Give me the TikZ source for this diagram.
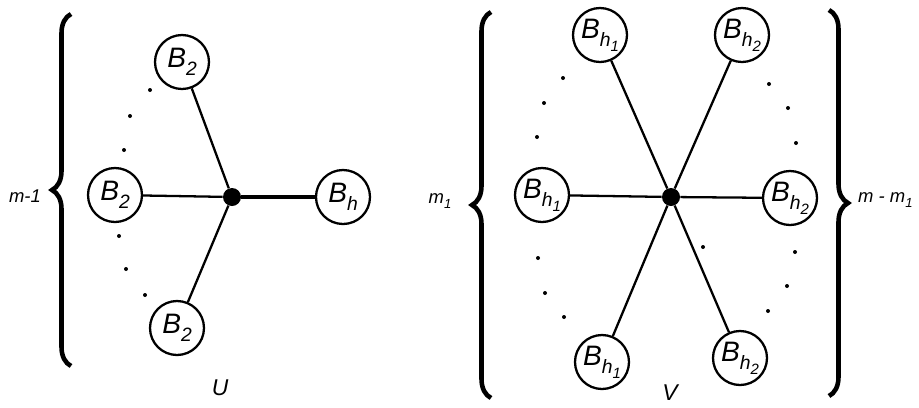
\documentclass[tikz,border=0pt]{standalone}
\usepackage{fontspec}
\setmainfont{Liberation Sans}
\usetikzlibrary{decorations.pathreplacing}

\newcommand{\Bsub}[1]{\textit{B}\raisebox{-.55ex}{\fontsize{11}{11}\selectfont\itshape #1}}
\newcommand{\hsub}[1]{h\raisebox{-.45ex}{\fontsize{8.5}{8}\selectfont\itshape #1}}

\begin{document}
\begin{tikzpicture}[
  x=0.02cm, y=-0.02cm,
  bnode/.style={draw, circle, line width=1.3pt, minimum size=1.08cm, inner sep=0pt,
                font=\fontsize{16}{17}\selectfont\itshape},
  hub/.style={circle, fill=black, minimum size=0.36cm, inner sep=0pt},
  edge/.style={line width=1.3pt},
  bedge/.style={line width=1.9pt},
  bracebar/.style={decorate, decoration={brace, amplitude=0.38cm}, line width=2.6pt},
  sidelabel/.style={font=\fontsize{10.5}{11}\selectfont\itshape},
  graphlabel/.style={font=\fontsize{13}{14}\selectfont\itshape, inner sep=1pt},
]
\useasboundingbox (0,0) rectangle (919,407);

\node[hub]   (ctrU) at (232,197) {};
\node[bnode] (uTop) at (182,62)  {\Bsub{2}};
\node[bnode] (uMid) at (115,195) {\Bsub{2}};
\node[bnode] (uBot) at (177,328) {\Bsub{2}};
\node[bnode] (uH)   at (343,197) {\Bsub{h}};

\foreach \nm in {uTop, uMid, uBot}{
  \draw[edge] (\nm) -- (ctrU);
}
\draw[bedge] (ctrU) -- (uH);

\foreach \px/\py in {150/90, 130/116, 124/150, 119/236, 126/269, 145/295}{
  \fill (\px,\py) circle (2);
}

\draw[bracebar] (71,366) -- (71,14);
\node[sidelabel] (lblU) at (25,196) {m-1};
\node[graphlabel] (nameU) at (220,388) {U};

\node[hub] (ctrV) at (671,197) {};
\foreach \nm/\px/\py/\lb in {
  vTL/600/35/{\Bsub{\hsub{1}}},
  vTR/742/35/{\Bsub{\hsub{2}}},
  vML/542/195/{\Bsub{\hsub{1}}},
  vMR/790/198/{\Bsub{\hsub{2}}},
  vBL/602/362/{\Bsub{\hsub{1}}},
  vBR/740/358/{\Bsub{\hsub{2}}}
}{
  \node[bnode] (\nm) at (\px,\py) {\lb};
  \draw[edge] (\nm) -- (ctrV);
}

\foreach \px/\py in {563/78, 544/103, 537/137, 538/258, 545/293, 564/317,
                     769/84, 788/108, 796/143, 795/252, 787/286, 768/311, 703/247}{
  \fill (\px,\py) circle (2);
}

\draw[bracebar] (491,398) -- (491,12);
\draw[bracebar] (829,10) -- (829,396);
\node[sidelabel] (lblV1) at (440,201) {m\raisebox{-.5ex}{\fontsize{7.5}{8}\selectfont 1}};
\node[sidelabel, anchor=west] (lblV2) at (852,200) {m - m\raisebox{-.5ex}{\fontsize{7.5}{8}\selectfont 1}};
\node[graphlabel] (nameV) at (670,393) {V};

\end{tikzpicture}
\end{document}
